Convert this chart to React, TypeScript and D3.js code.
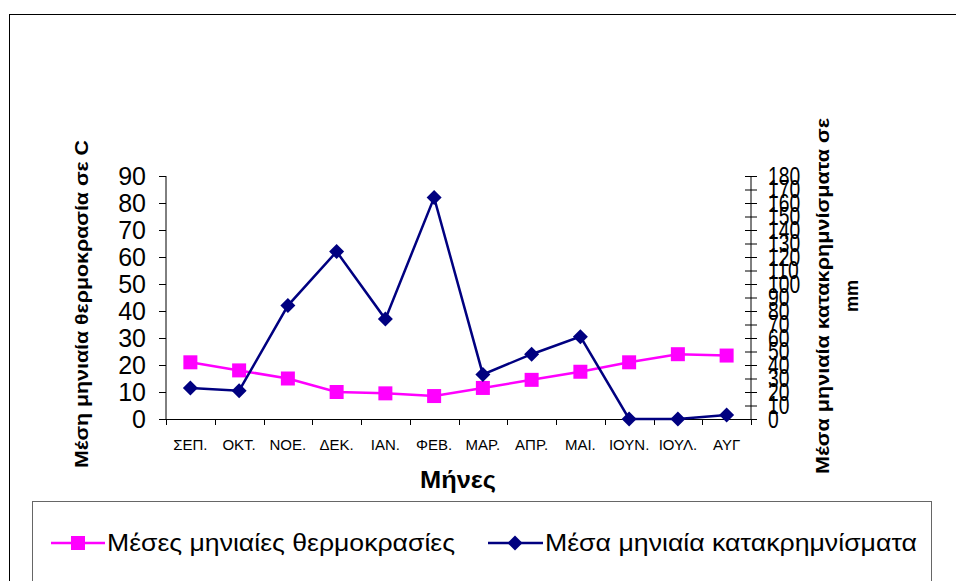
import React from 'react';
import * as d3 from 'd3';

// month labels (Greek abbreviations)
const months = ['ΣΕΠ.', 'ΟΚΤ.', 'ΝΟΕ.', 'ΔΕΚ.', 'ΙΑΝ.', 'ΦΕΒ.', 'ΜΑΡ.', 'ΑΠΡ.', 'ΜΑΙ.', 'ΙΟΥΝ.', 'ΙΟΥΛ.', 'ΑΥΓ'];
// mean monthly temperature (left axis)
const temperature = [21, 18, 15, 10, 9.5, 8.5, 11.5, 14.5, 17.5, 21, 24, 23.5];
// mean monthly precipitation (right axis)
const precipitation = [23, 21, 84, 124, 74, 164, 33, 48, 61, 0, 0, 3];
const leftTicks = [0, 10, 20, 30, 40, 50, 60, 70, 80, 90];
const rightTicks = [0, 10, 20, 30, 40, 50, 60, 70, 80, 90, 100, 110, 120, 130, 140, 150, 160, 170, 180];

const W = 956;
const H = 581;
const FONT = 'Arial, "Liberation Sans", sans-serif';
const PINK = '#FF00FF';
const NAVY = '#000080';

const App = () => {
  const plot = { left: 166, right: 751, top: 176, bottom: 419 };

  const x = d3.scaleBand<string>()
    .domain(months)
    .range([plot.left, plot.right])
    .padding(0);
  const cx = (m: string) => (x(m) as number) + x.bandwidth() / 2;

  const yLeft = d3.scaleLinear().domain([0, 90]).range([plot.bottom, plot.top]);
  const yRight = d3.scaleLinear().domain([0, 180]).range([plot.bottom, plot.top]);

  const tempLine = d3.line<number>()
    .x((_, i) => cx(months[i]))
    .y(d => yLeft(d));
  const rainLine = d3.line<number>()
    .x((_, i) => cx(months[i]))
    .y(d => yRight(d));

  const diamond = (px: number, py: number, r: number) =>
    `M${px},${py - r}L${px + r},${py}L${px},${py + r}L${px - r},${py}Z`;

  const bandEdges = months.map(m => x(m) as number).concat([plot.right]);

  return (
    <svg width={W} height={H} style={{ position: 'absolute', left: 0, top: 0, background: '#fff' }} fontFamily={FONT}>
      {/* chart frame */}
      <rect x={9.5} y={14.5} width={W} height={H} fill="#fff" stroke="#000" strokeWidth={1} />

      {/* left axis */}
      <line x1={plot.left} x2={plot.left} y1={plot.top} y2={plot.bottom} stroke="#000" />
      {leftTicks.map(t => (
        <g key={'l' + t}>
          <line x1={plot.left - 7} x2={plot.left} y1={yLeft(t) + 0.5} y2={yLeft(t) + 0.5} stroke="#000" />
          <text x={146} y={yLeft(t)} dy="0.35em" textAnchor="end" fontSize={25}>{t}</text>
        </g>
      ))}

      {/* right axis: labels overlap, as in the source chart */}
      <line x1={plot.right} x2={plot.right} y1={plot.top} y2={plot.bottom} stroke="#000" />
      {rightTicks.map(t => (
        <g key={'r' + t}>
          <line x1={plot.right - 6} x2={plot.right + 6} y1={yRight(t) + 0.5} y2={yRight(t) + 0.5} stroke="#000" />
          <text transform={`translate(768,${yRight(t)}) scale(0.77,1)`} dy="0.35em" fontSize={25}>{t}</text>
        </g>
      ))}

      {/* x axis */}
      <line x1={plot.left} x2={plot.right} y1={plot.bottom + 0.5} y2={plot.bottom + 0.5} stroke="#000" />
      {bandEdges.map((e, i) => (
        <line key={'xt' + i} x1={Math.round(e) + 0.5} x2={Math.round(e) + 0.5} y1={plot.bottom} y2={plot.bottom + 6} stroke="#000" />
      ))}
      {months.map(m => (
        <text key={m} x={cx(m)} y={450} textAnchor="middle" fontSize={15}>{m}</text>
      ))}

      {/* series */}
      <path d={tempLine(temperature) || ''} fill="none" stroke={PINK} strokeWidth={2.5} />
      {temperature.map((d, i) => (
        <rect key={'t' + i} x={cx(months[i]) - 7} y={yLeft(d) - 7} width={14} height={14} fill={PINK} />
      ))}
      <path d={rainLine(precipitation) || ''} fill="none" stroke={NAVY} strokeWidth={2.5} />
      {precipitation.map((d, i) => (
        <path key={'p' + i} d={diamond(cx(months[i]), yRight(d), 7.5)} fill={NAVY} />
      ))}

      {/* axis titles */}
      <text transform="translate(88,304) rotate(-90)" textAnchor="middle" fontSize={18} fontWeight="bold"
        textLength={328} lengthAdjust="spacingAndGlyphs">Μέση μηνιαία θερμοκρασία σε C</text>
      <text transform="translate(829,296) rotate(-90)" textAnchor="middle" fontSize={18} fontWeight="bold"
        textLength={356} lengthAdjust="spacingAndGlyphs">Μέσα μηνιαία κατακρημνίσματα σε</text>
      <text transform="translate(858,296) rotate(-90)" textAnchor="middle" fontSize={18} fontWeight="bold">mm</text>
      <text x={458} y={488} textAnchor="middle" fontSize={24} fontWeight="bold"
        textLength={76} lengthAdjust="spacingAndGlyphs">Μήνες</text>

      {/* legend */}
      <rect x={32.5} y={501.5} width={899} height={120} fill="#fff" stroke="#666" strokeWidth={1} />
      <line x1={51} x2={105} y1={543} y2={543} stroke={PINK} strokeWidth={2.5} />
      <rect x={71} y={536} width={14} height={14} fill={PINK} />
      <text x={107} y={551} fontSize={23} textLength={348} lengthAdjust="spacingAndGlyphs">Μέσες μηνιαίες θερμοκρασίες</text>
      <line x1={488} x2={543} y1={543} y2={543} stroke={NAVY} strokeWidth={2.5} />
      <path d={diamond(515, 543, 7.5)} fill={NAVY} />
      <text x={545} y={551} fontSize={23} textLength={372} lengthAdjust="spacingAndGlyphs">Μέσα μηνιαία κατακρημνίσματα</text>
    </svg>
  );
};

export default App;
